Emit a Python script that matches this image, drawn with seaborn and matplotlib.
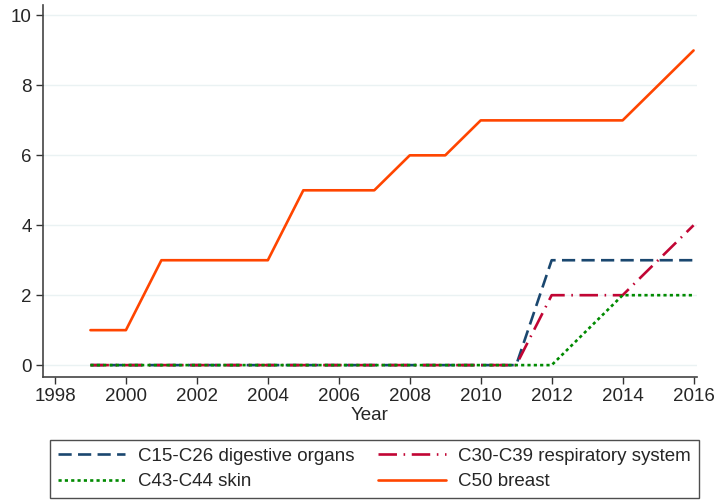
import matplotlib
matplotlib.use("Agg")
import matplotlib.pyplot as plt
import seaborn as sns
import pandas as pd

years = list(range(1999, 2017))
digestive = [0, 0, 0, 0, 0, 0, 0, 0, 0, 0, 0, 0, 0, 3, 3, 3, 3, 3]
respiratory = [0, 0, 0, 0, 0, 0, 0, 0, 0, 0, 0, 0, 0, 2, 2, 2, 3, 4]
skin = [0, 0, 0, 0, 0, 0, 0, 0, 0, 0, 0, 0, 0, 0, 1, 2, 2, 2]
breast = [1, 1, 3, 3, 3, 3, 5, 5, 5, 6, 6, 7, 7, 7, 7, 7, 8, 9]

labels = ["C15-C26 digestive organs", "C30-C39 respiratory system",
          "C43-C44 skin", "C50 breast"]
series = [digestive, respiratory, skin, breast]

rows = []
for lab, vals in zip(labels, series):
    for y, v in zip(years, vals):
        rows.append({"Year": y, "count": v, "site": lab})
df = pd.DataFrame(rows)

sns.set_style("white")
plt.rcParams["font.family"] = ["Liberation Sans", "DejaVu Sans"]

palette = {labels[0]: "#1a476f", labels[1]: "#c10534",
           labels[2]: "#008a00", labels[3]: "#ff4500"}
dashes = {labels[0]: (5, 2.4), labels[1]: (7, 2.5, 0.6, 2.5),
          labels[2]: (1.2, 1.2), labels[3]: ""}

fig = plt.figure(figsize=(7.15, 5.0), dpi=100)
ax = fig.add_axes([0.060, 0.246, 0.915, 0.744])

sns.lineplot(data=df, x="Year", y="count", hue="site", style="site",
             palette=palette, dashes=dashes, linewidth=1.9, ax=ax,
             hue_order=labels, style_order=labels, zorder=3)

ax.set_xlim(1997.66, 2016.1)
ax.set_ylim(-0.34, 10.3)
ax.set_xticks(range(1998, 2017, 2))
ax.set_yticks(range(0, 11, 2))
ax.set_ylabel("")
ax.set_xlabel("Year", fontsize=13.5, labelpad=1.5)
ax.tick_params(axis="both", labelsize=13.5, length=5, width=1,
               color="#333333", direction="out", pad=3)
ax.tick_params(axis="x", bottom=True)
ax.tick_params(axis="y", left=True)
ax.grid(axis="y", color="#eaf2f3", linewidth=1, zorder=0)
for s in ["top", "right"]:
    ax.spines[s].set_visible(False)
for s in ["left", "bottom"]:
    ax.spines[s].set_color("#444444")
    ax.spines[s].set_linewidth(1.2)

handles, labs = ax.get_legend_handles_labels()
ax.legend_.remove()
# two columns: digestive / skin on the left, respiratory / breast on the right
order = [0, 2, 1, 3]
leg = fig.legend([handles[i] for i in order], [labs[i] for i in order],
                 ncol=2, loc="lower left",
                 bbox_to_anchor=(50 / 715, 2 / 500),
                 fontsize=13.5, frameon=True, fancybox=False, handlelength=3.6,
                 handletextpad=0.65, borderaxespad=0, columnspacing=1.3,
                 labelspacing=0.45, borderpad=0.42)
leg.get_frame().set_edgecolor("#222222")
leg.get_frame().set_linewidth(1.0)

fig.savefig("out.png", dpi=100)
